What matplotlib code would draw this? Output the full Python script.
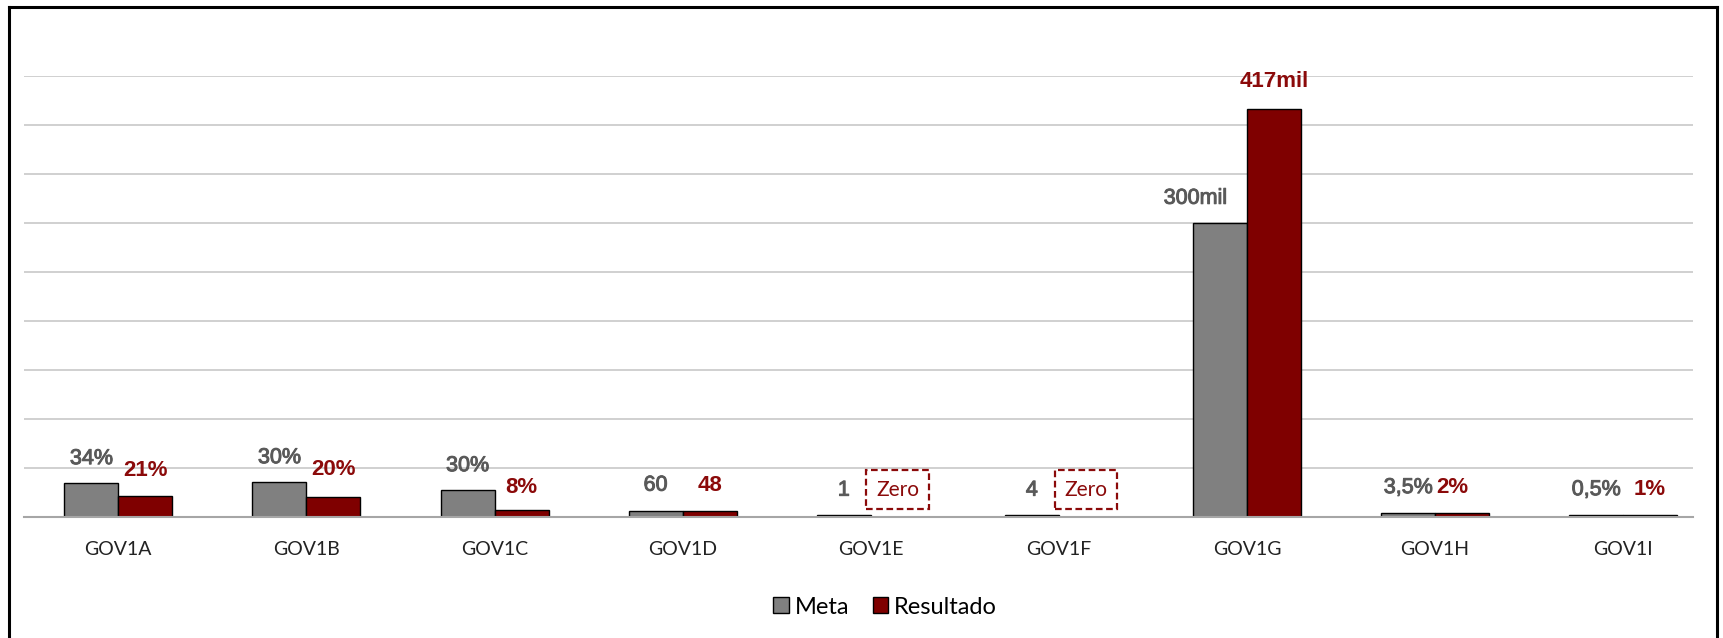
import matplotlib
matplotlib.use("Agg")
import matplotlib.pyplot as plt
from matplotlib.patches import Rectangle, Patch
from matplotlib.lines import Line2D
import matplotlib.patheffects as pe
import numpy as np

# ---- data ----
categories = ["GOV1A", "GOV1B", "GOV1C", "GOV1D", "GOV1E", "GOV1F", "GOV1G", "GOV1H", "GOV1I"]
# bar heights as drawn (chart units)
meta_values = [34800, 36100, 27200, 5700, 2000, 2000, 300000, 4000, 2500]
resultado_values = [21000, 20000, 7200, 5700, 0, 0, 417000, 4000, 2500]
# data label texts
meta_labels = ["34%", "30%", "30%", "60", "1", "4", "300mil", "3,5%", "0,5%"]
resultado_labels = ["21%", "20%", "8%", "48", "Zero", "Zero", "417mil", "2%", "1%"]

# ---- layout (label positions, chart units) ----
meta_label_y = [59600, 60600, 52400, 32500, 27400, 27400, 325500, 30000, 27900]
res_label_y = [47300, 48400, 30000, 32500, 27900, 27900, 445000, 30000, 27900]
meta_label_dx = [0, 0, 0, 0, 0, 0, -0.13, 0, 0]
res_label_dx = [0, 0, 0, 0, 0, 0, 0, -0.05, 0]

GRAY = "#808080"
RED = "#7F0000"
GRAY_TXT = "#595959"
RED_TXT = "#8B0A0A"

W, H = 1724, 638
fig = plt.figure(figsize=(W / 100, H / 100), dpi=100)
ax_left, ax_right = 24.3, 1693
ax = fig.add_axes([ax_left / W, 121 / H, (ax_right - ax_left) / W, (517.3 - 76.7) / H])

x = np.arange(len(categories))
w = 0.287
ax.bar(x - w / 2, meta_values, w, color=GRAY, edgecolor="black", linewidth=1.0, zorder=3)
ax.bar(x + w / 2, resultado_values, w, color=RED, edgecolor="black", linewidth=1.0, zorder=3)

unit_px = 188.1
ax.set_xlim(-0.5, -0.5 + (ax_right - ax_left) / unit_px)
ax.set_ylim(0, 450000)
ax.set_yticks(np.arange(0, 450001, 50000))
ax.yaxis.grid(True, color="#C8C8C8", linewidth=1.2, zorder=0)
ax.tick_params(axis="y", left=False, labelleft=False)
ax.tick_params(axis="x", bottom=False, length=0, pad=17)
ax.set_xticks(x)
ax.set_xticklabels(categories, fontsize=14, family="Lato", color="#222222")
for s in ["top", "right", "left"]:
    ax.spines[s].set_visible(False)
ax.spines["bottom"].set_color("#A6A6A6")
ax.spines["bottom"].set_linewidth(1.5)
ax.spines["bottom"].set_zorder(4)

gray_fx = [pe.withStroke(linewidth=0.7, foreground=GRAY_TXT)]
for i in range(len(categories)):
    ax.text(x[i] - w / 2 + meta_label_dx[i], meta_label_y[i], meta_labels[i],
            ha="center", va="center", fontsize=15.5, family="Liberation Sans",
            fontweight="normal", color=GRAY_TXT, zorder=5, path_effects=gray_fx)
    if resultado_labels[i] == "Zero":
        h = 39900
        bw = 0.333
        ax.add_patch(Rectangle((x[i] + w / 2 - bw / 2, res_label_y[i] - h / 2), bw, h,
                               fill=False, edgecolor=RED_TXT, linewidth=1.6,
                               linestyle=(0, (3, 1.6)), zorder=5))
        ax.text(x[i] + w / 2, res_label_y[i], "Zero", ha="center", va="center",
                fontsize=15, family="Lato", color=RED_TXT, zorder=5)
    else:
        ax.text(x[i] + w / 2 + res_label_dx[i], res_label_y[i], resultado_labels[i],
                ha="center", va="center", fontsize=16, family="Liberation Sans",
                fontweight="bold", color=RED_TXT, zorder=5)

handles = [Patch(facecolor=GRAY, edgecolor="black", linewidth=1.0, label="Meta"),
           Patch(facecolor=RED, edgecolor="black", linewidth=1.0, label="Resultado")]
fig.legend(handles=handles, loc="center", bbox_to_anchor=(885 / W, 1 - 607 / H),
           ncol=2, frameon=False, prop={"family": "Lato", "size": 17},
           handlelength=0.65, handleheight=0.65, handletextpad=0.25, columnspacing=1.0)

# outer frame
fx0, fx1, fy = 9 / W, 1717 / W, 1 - 7 / H
for xs, ys in [([fx0, fx0], [-0.05, fy]), ([fx0, fx1], [fy, fy]), ([fx1, fx1], [-0.05, fy])]:
    fig.add_artist(Line2D(xs, ys, transform=fig.transFigure, color="black", linewidth=2.2))

fig.savefig("out.png", dpi=100)
